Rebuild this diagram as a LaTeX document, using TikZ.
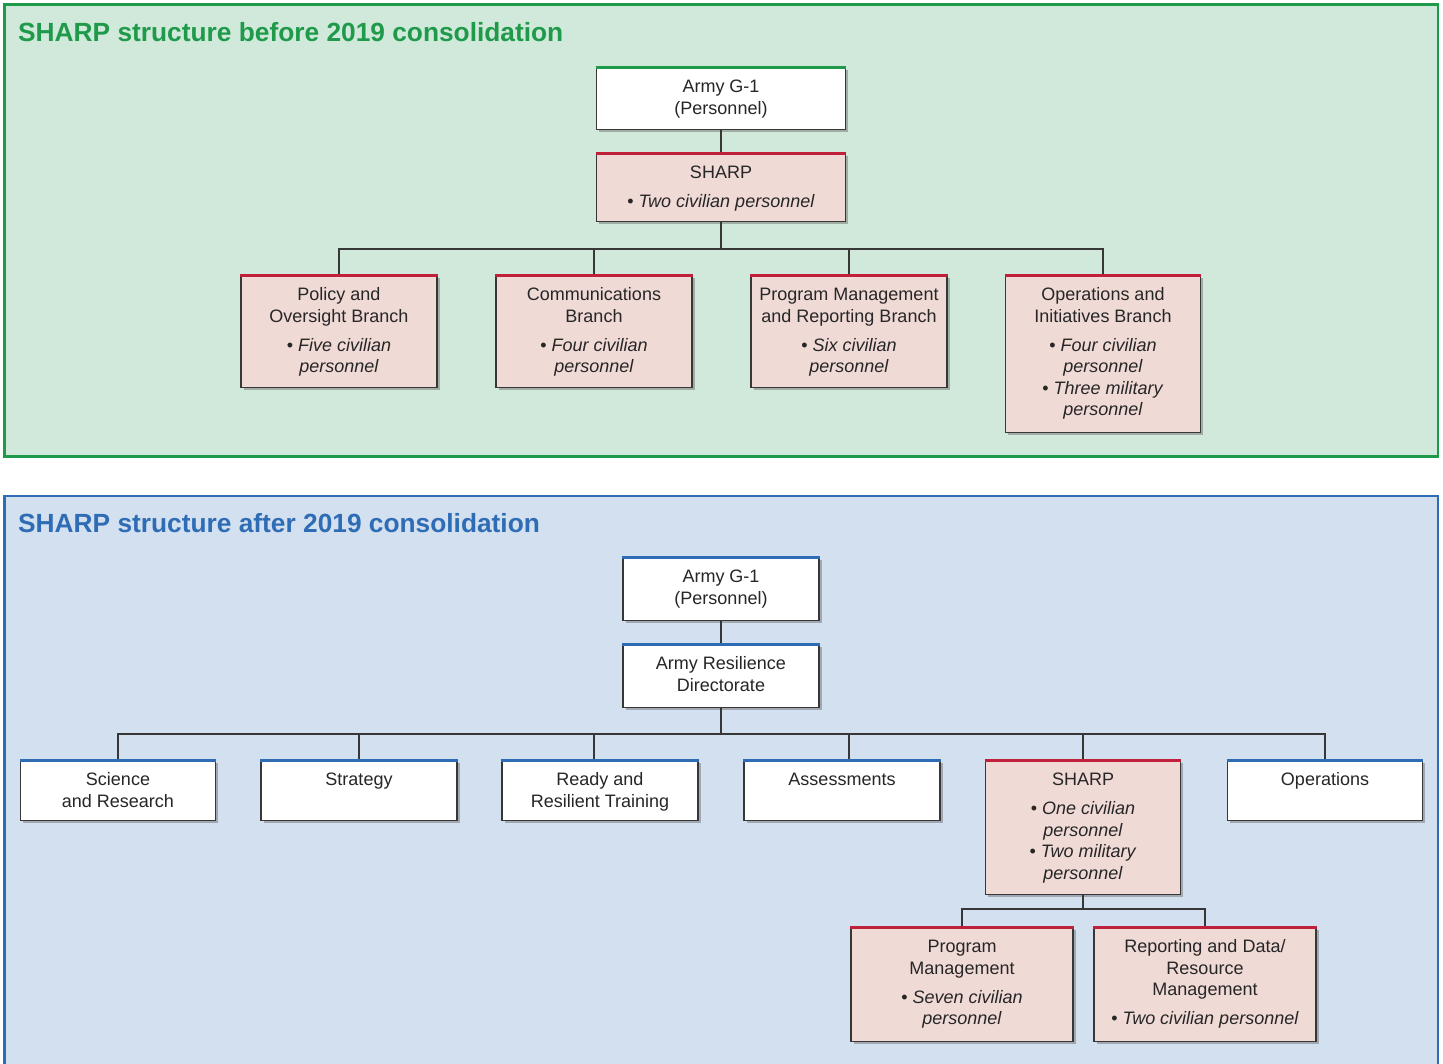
\documentclass[tikz,border=0pt]{standalone}
\usepackage{fontspec}
\setmainfont{Liberation Sans}
\usetikzlibrary{shadows}
\definecolor{greenpanel}{RGB}{208,233,218}
\definecolor{greenline}{RGB}{30,154,74}
\definecolor{bluepanel}{RGB}{211,224,240}
\definecolor{blueline}{RGB}{46,109,181}
\definecolor{pinkfill}{RGB}{240,218,214}
\definecolor{redline}{RGB}{192,32,58}
\definecolor{linegray}{RGB}{55,55,55}
\newcommand{\boxtext}[3]{\parbox[c][#2pt][t]{#1pt}{\centering\rule{0pt}{25pt}#3}}
\newcommand{\bul}[1]{\textbullet\ \textit{#1}}
\tikzset{
  unit/.style = {draw = linegray, line width = 1.1pt, fill = white, inner sep = 0pt, anchor = north,
    text = black!85, font = \fontsize{18}{21.5}\selectfont,
    drop shadow = {shadow xshift = 2.5pt, shadow yshift = -2.5pt, opacity = .45, fill = black!60}},
  sharpunit/.style = {unit, fill = pinkfill},
  conn/.style = {draw = linegray, line width = 1.6pt},
  paneltitle/.style = {anchor = base west, inner sep = 0pt, font = \fontsize{26.3}{30}\selectfont\bfseries}
}
\begin{document}
\begin{tikzpicture}[x = 1pt, y = -1pt]
\clip (0,0) rectangle (1443,1063);
\fill[white] (0,0) rectangle (1443,1063);
% panels
\draw[fill = greenpanel, draw = greenline, line width = 2.5pt] (4.5,4.5) rectangle (1438,456.5);
\draw[fill = bluepanel, draw = blueline, line width = 2.5pt] (4.5,496) rectangle (1438,1080);
\node[paneltitle, text = greenline] (titlea) at (18,41) {SHARP structure before 2019 consolidation};
\node[paneltitle, text = blueline] (titleb) at (18,532) {SHARP structure after 2019 consolidation};

% before 2019
\node[unit] (g1a) at (721,67) {\boxtext{249}{62}{Army G-1\\(Personnel)}};
\node[sharpunit] (sharpa) at (721,153) {\boxtext{249}{68}{SHARP\\[7.5pt]\bul{Two civilian personnel}}};
\node[sharpunit] (pol) at (339,275) {\boxtext{196}{112}{Policy and\\Oversight Branch\\[7.5pt]\bul{Five civilian}\\\textit{personnel}}};
\node[sharpunit] (com) at (594,275) {\boxtext{196}{112}{Communications\\Branch\\[7.5pt]\bul{Four civilian}\\\textit{personnel}}};
\node[sharpunit] (prog) at (849,275) {\boxtext{196}{112}{Program Management\\and Reporting Branch\\[7.5pt]\bul{Six civilian}\\\textit{personnel}}};
\node[sharpunit] (ops) at (1103,275) {\boxtext{195}{157}{Operations and\\Initiatives Branch\\[7.5pt]\bul{Four civilian}\\\textit{personnel}\\\bul{Three military}\\\textit{personnel}}};

\draw[conn] (g1a.south) -- (sharpa.north);
\foreach \b in {pol,com,prog,ops}
  \draw[conn] (sharpa.south) -- ++(0,27) -| (\b.north);

% after 2019
\node[unit] (g1b) at (721,557) {\boxtext{196}{63}{Army G-1\\(Personnel)}};
\node[unit] (ard) at (721,644) {\boxtext{196}{63}{Army Resilience\\Directorate}};
\node[unit] (sci) at (118,760) {\boxtext{195}{60}{Science\\and Research}};
\node[unit] (strat) at (359,760) {\boxtext{196}{60}{Strategy}};
\node[unit] (rrt) at (600,760) {\boxtext{196}{60}{Ready and\\Resilient Training}};
\node[unit] (assess) at (842,760) {\boxtext{196}{60}{Assessments}};
\node[sharpunit] (sharpb) at (1083,760) {\boxtext{195}{134}{SHARP\\[7.5pt]\bul{One civilian}\\\textit{personnel}\\\bul{Two military}\\\textit{personnel}}};
\node[unit] (opsb) at (1325,760) {\boxtext{195}{60}{Operations}};
\node[sharpunit] (pm) at (962,927) {\boxtext{222}{114}{Program\\Management\\[7.5pt]\bul{Seven civilian}\\\textit{personnel}}};
\node[sharpunit] (rdm) at (1205,927) {\boxtext{222}{114}{Reporting and Data/\\Resource\\Management\\[7.5pt]\bul{Two civilian personnel}}};

\draw[conn] (g1b.south) -- (ard.north);
\foreach \b in {sci,strat,sharpb,opsb}
  \draw[conn] (ard.south) -- ++(0,26) -| (\b.north);
\draw[conn] (ard.south) -- ++(0,26) -| ([xshift = -6pt]rrt.north);
\draw[conn] (ard.south) -- ++(0,26) -| ([xshift = 7pt]assess.north);
\foreach \b in {pm,rdm}
  \draw[conn] (sharpb.south) -- ++(0,14) -| (\b.north);

% coloured top edges
\foreach \n in {g1a}
  \draw[greenline, line width = 3pt] (\n.north west) -- (\n.north east);
\foreach \n in {sharpa,pol,com,prog,ops,sharpb,pm,rdm}
  \draw[redline, line width = 3pt] (\n.north west) -- (\n.north east);
\foreach \n in {g1b,ard,sci,strat,rrt,assess,opsb}
  \draw[blueline, line width = 3pt] (\n.north west) -- (\n.north east);
\end{tikzpicture}
\end{document}
